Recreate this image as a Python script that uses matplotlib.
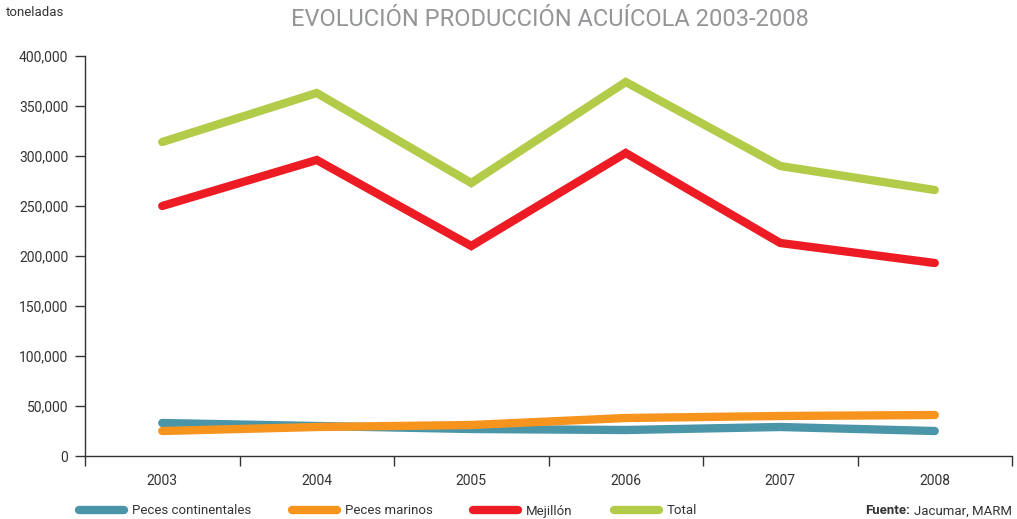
import matplotlib.pyplot as plt
import numpy as np

# data (toneladas)
years = ['2003', '2004', '2005', '2006', '2007', '2008']
peces_cont = [33000, 30000, 27000, 26000, 29000, 25000]
peces_mar = [25000, 29000, 31000, 38000, 40000, 41000]
mejillon = [250000, 296000, 210000, 303000, 213000, 193000]
total = [314000, 363000, 273000, 374000, 290000, 266000]

series = [
    (peces_cont, 'Peces continentales', '#4a95a8'),
    (peces_mar, 'Peces marinos', '#f7941d'),
    (mejillon, 'Mejillón', '#ed1c24'),
    (total, 'Total', '#b2cb48'),
]

plt.rcParams['font.family'] = ['Roboto', 'DejaVu Sans']
axis_col = '#333333'

fig = plt.figure(figsize=(10.17, 5.19), dpi=100)
ax = fig.add_axes([85 / 1017, 63 / 519, 927 / 1017, 400 / 519])

x = np.arange(len(years))
for vals, name, col in series:
    ax.plot(x, vals, color=col, lw=6, solid_capstyle='round',
            solid_joinstyle='miter', label=name)

ax.set_xlim(-0.5, len(years) - 0.5)
ax.set_ylim(0, 400000)
ax.set_yticks(np.arange(0, 400001, 50000))
ax.set_yticklabels([f'{v:,}' for v in range(0, 400001, 50000)])
ax.set_xticks(x)
ax.set_xticklabels(years)
ax.set_xticks(np.arange(-0.5, len(years)), minor=True)
ax.tick_params(axis='x', which='major', length=0, pad=13, labelsize=10, colors=axis_col)
ax.tick_params(axis='x', which='minor', length=7, width=1, color=axis_col)
ax.tick_params(axis='y', length=7, width=1, color=axis_col, labelsize=10,
               labelcolor=axis_col, pad=5)

for s in ['top', 'right']:
    ax.spines[s].set_visible(False)
for s in ['left', 'bottom']:
    ax.spines[s].set_color(axis_col)
    ax.spines[s].set_linewidth(1)

fig.text(6 / 1017, 1 - 13 / 519, 'toneladas', fontsize=9.5, color=axis_col, va='center')
fig.text(550 / 1017, 1 - 19 / 519, 'EVOLUCIÓN PRODUCCIÓN ACUÍCOLA 2003-2008',
         fontsize=17, color='#939598', ha='center', va='center')

fig.legend(loc='center left', bbox_to_anchor=(79 / 1017, 1 - 511 / 519), ncol=4,
           frameon=False, fontsize=9.5, handlelength=3.4, handletextpad=0.6,
           columnspacing=3.1, labelcolor=axis_col, borderaxespad=0, borderpad=0)

src = fig.text(1012 / 1017, 1 - 511 / 519, 'Jacumar, MARM', fontsize=9.5,
               color=axis_col, ha='right', va='center')
fig.canvas.draw()
bb = src.get_window_extent()
fig.text((bb.x0 - 4) / 1017, 1 - 511 / 519, 'Fuente:', fontsize=9.5, fontweight='bold',
         color=axis_col, ha='right', va='center')

fig.savefig('out.png', dpi=100)
